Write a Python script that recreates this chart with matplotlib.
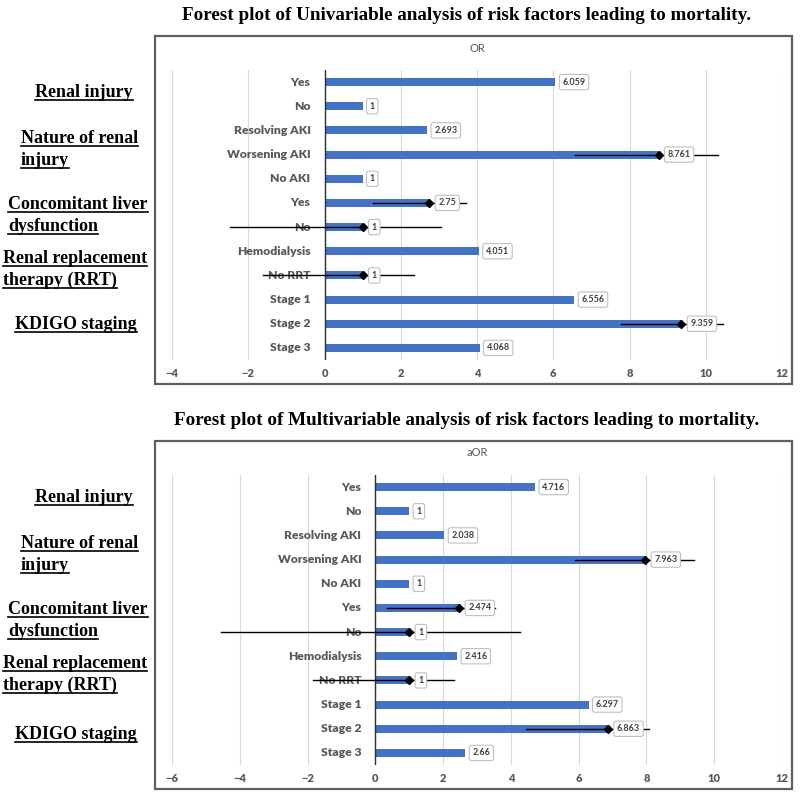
"""Forest plots of univariable / multivariable analysis (OR, aOR)."""
import matplotlib as mpl
mpl.use('Agg')
import matplotlib.pyplot as plt
from matplotlib.patches import Rectangle
from matplotlib.lines import Line2D

categories = ['Yes', 'No', 'Resolving AKI', 'Worsening AKI', 'No AKI', 'Yes', 'No',
              'Hemodialysis', 'No RRT', 'Stage 1', 'Stage 2', 'Stage 3']
or_values = [6.059, 1, 2.693, 8.761, 1, 2.75, 1, 4.051, 1, 6.556, 9.359, 4.068]
aor_values = [4.716, 1, 2.038, 7.963, 1, 2.474, 1, 2.416, 1, 6.297, 6.863, 2.66]

# rows that carry a confidence interval, with their lower / upper limits
ci_rows = [3, 5, 6, 8, 10]
or_low = [6.58, 1.28, -2.47, -1.62, 7.78]
or_high = [10.33, 3.70, 3.05, 2.35, 10.45]
aor_low = [5.90, 0.35, -4.55, -1.85, 4.46]
aor_high = [9.39, 3.53, 4.26, 2.32, 8.07]

groups = [['Renal injury'], ['Nature of renal', 'injury'],
          ['Concomitant liver', 'dysfunction'],
          ['Renal replacement', 'therapy (RRT)'], ['KDIGO staging']]

W, H = 800, 794
BLUE = '#4472C4'
GRAY = '#595959'
SANS = ['Lato', 'DejaVu Sans']
SERIF = ['Liberation Serif', 'DejaVu Serif']

fig = plt.figure(figsize=(W / 100, H / 100), dpi=100)
fig.patch.set_facecolor('white')


def fx(px):
    return px / W


def fy(py):
    return 1 - py / H


def panel(top, values, low, high, xmin, title, axtitle):
    """Draw one framed forest panel; top = pixel y of the plot area top."""
    # outer frame of the chart
    box_top = top - 34
    fig.patches.append(Rectangle((fx(155), fy(box_top + 348)), fx(637), 348 / H,
                                 transform=fig.transFigure, fill=False,
                                 edgecolor='#5f5f5f', lw=1.6))
    fig.text(fx(467), fy(box_top - 20), title, family=SERIF, fontweight='bold',
             fontsize=13.8, ha='center', va='center', color='black')
    fig.text(fx(477), fy(top - 22), axtitle, family=SANS, fontsize=8,
             ha='center', va='center', color=GRAY)

    ax = fig.add_axes([fx(172), fy(top + 290), fx(610), 290 / H])
    y = list(range(len(categories)))
    ax.barh(y, values, height=0.33, color=BLUE, zorder=2)
    ax.set_xlim(xmin, 12)
    ax.set_ylim(len(categories) - 0.5, -0.5)
    ax.set_xticks(range(xmin, 13, 2))
    ax.set_yticks([])
    ax.grid(axis='x', color='#D9D9D9', lw=0.8, zorder=0)
    ax.set_axisbelow(True)
    for s in ax.spines.values():
        s.set_visible(False)
    ax.axvline(0, color='#303030', lw=1, zorder=3)
    ax.tick_params(axis='x', length=0, pad=6, labelsize=8, labelcolor=GRAY)
    for lab in ax.get_xticklabels():
        lab.set_family(SANS)
        lab.set_fontweight('heavy')

    for i, cat in enumerate(categories):
        ax.annotate(cat, (0, i), xytext=(-14, 0), textcoords='offset pixels',
                    ha='right', va='center', family=SANS, fontweight='heavy',
                    fontsize=8.7, color=GRAY)
    for r, lo, hi in zip(ci_rows, low, high):
        ax.plot([lo, hi], [r, r], color='black', lw=1, zorder=4)
        ax.plot(values[r], r, marker='D', ms=4.5, color='black', zorder=5)
    for i, v in enumerate(values):
        off = 9 if i in ci_rows else 7
        ax.annotate(str(v), (v, i), xytext=(off, 0), textcoords='offset pixels',
                    ha='left', va='center', family=SANS, fontsize=6.5,
                    fontweight='bold', color='#404040', zorder=6,
                    bbox=dict(boxstyle='round,pad=0.35,rounding_size=0.25',
                              fc='white', ec='#BFBFBF', lw=0.8))
    return ax


def group_labels(top, kdigo_dy):
    # (left x, baseline of first line) in pixels, relative to the plot top
    spots = [(35, 27), (21, 73), (8, 139), (3, 193), (15, kdigo_dy)]
    texts = []
    for lines, (x, dy) in zip(groups, spots):
        for k, line in enumerate(lines):
            t = fig.text(fx(x), fy(top + dy + 22 * k), line, family=SERIF,
                         fontweight='bold', fontsize=13, ha='left',
                         va='baseline', color='black')
            texts.append(t)
    return texts


panel(70, or_values, or_low, or_high, -4,
      'Forest plot of Univariable analysis of risk factors leading to mortality.', 'OR')
panel(475, aor_values, aor_low, aor_high, -6,
      'Forest plot of Multivariable analysis of risk factors leading to mortality.', 'aOR')
labels = group_labels(70, 259) + group_labels(475, 264)

# underline the group labels
fig.canvas.draw()
renderer = fig.canvas.get_renderer()
for t in labels:
    bb = t.get_window_extent(renderer)
    base = t.get_position()[1] * H
    yline = (base - 3) / H
    fig.lines.append(Line2D([bb.x0 / W, bb.x1 / W], [yline, yline],
                            transform=fig.transFigure, color='black', lw=1.2))

fig.savefig('out.png', dpi=100)
